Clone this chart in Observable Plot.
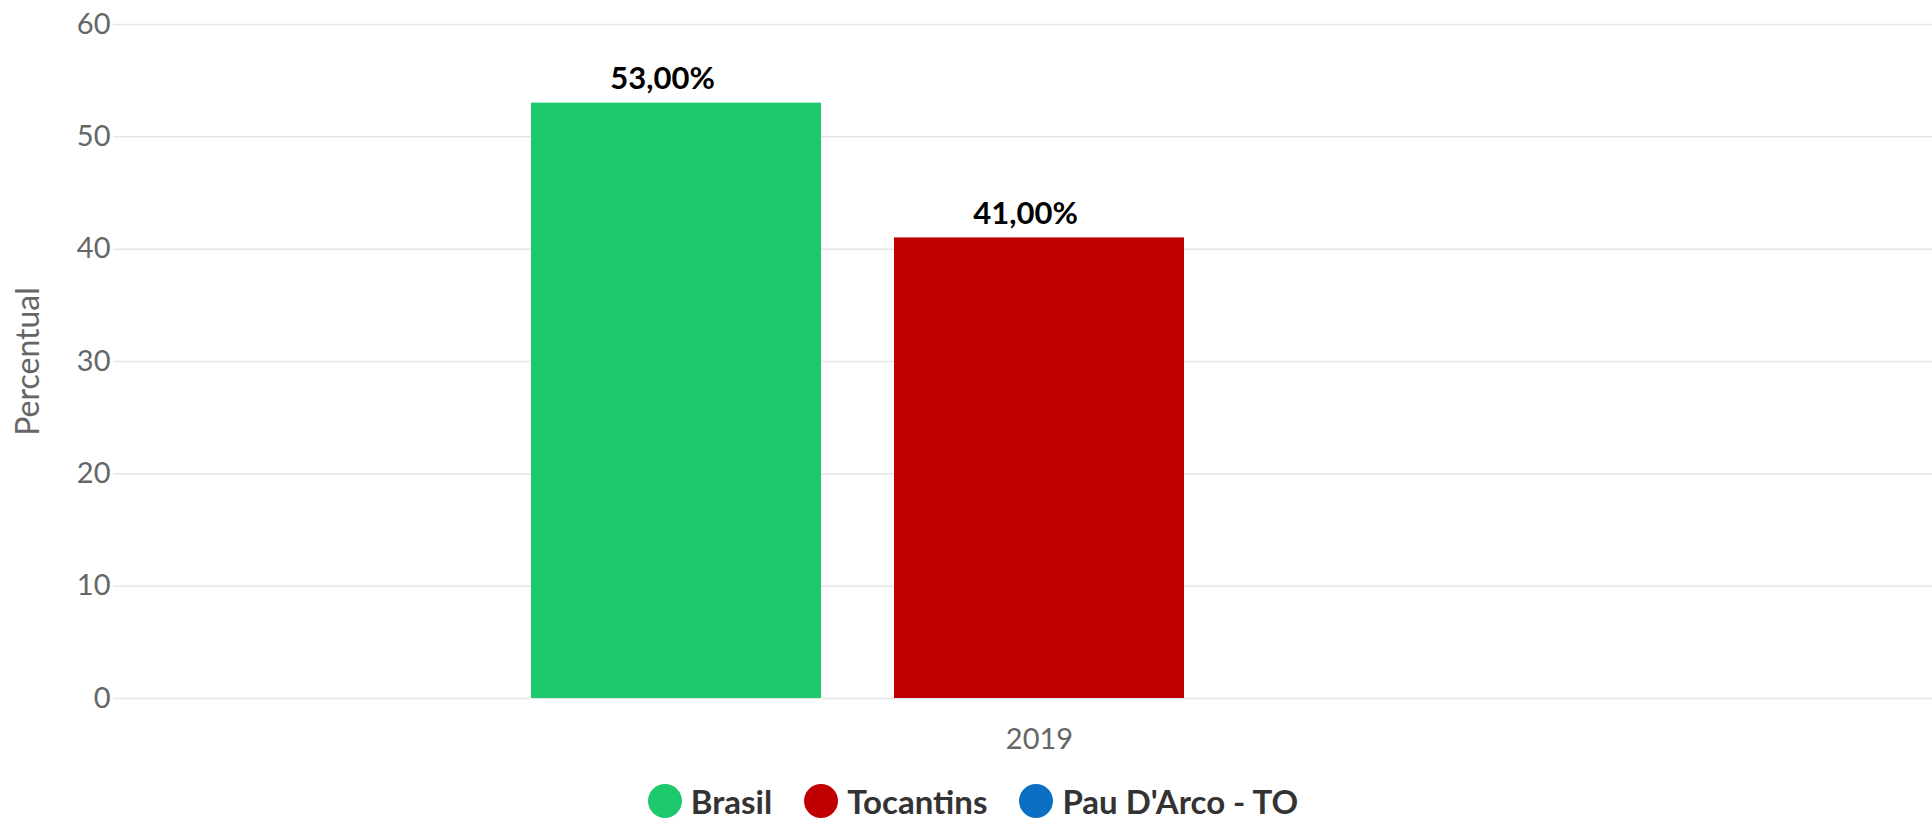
<!DOCTYPE html>
<html>
<head>
<meta charset="utf-8">
<script src="https://cdn.jsdelivr.net/npm/d3@7"></script>
<script src="https://cdn.jsdelivr.net/npm/@observablehq/plot@0.6"></script>
<style>
  html, body { margin: 0; padding: 0; background: #ffffff; overflow: hidden; }
  body { width: 1932px; height: 822px; font-family: Lato, "Open Sans", sans-serif; }
  #legend { display: flex; justify-content: center; align-items: center; gap: 32px; margin-top: 9px; padding-left: 14px; }
  .item { display: flex; align-items: center; gap: 9px; font-family: Lato, sans-serif; font-weight: 700; font-size: 33px; color: #333333; line-height: 34px; }
  .dot { width: 34px; height: 34px; border-radius: 50%; display: inline-block; }
</style>
</head>
<body>
<div id="chart"></div>
<div id="legend"></div>
<script>
const years = ["2019"];
const series = ["Brasil", "Tocantins", "Pau D'Arco - TO"];
const values2019 = [53, 41, null];
const colors = ["#1ec86c", "#c00000", "#0a6fc2"];
const yTicks = [0, 10, 20, 30, 40, 50, 60];

const data = series.map((s, i) => ({year: years[0], series: s, value: values2019[i]}));
const shown = data.filter(d => d.value != null);
const br = d3.formatLocale({decimal: ",", thousands: ".", grouping: [3], currency: ["R$", ""]});
const fmt = v => br.format(".2f")(v) + "%";

const chart = Plot.plot({
  width: 1932,
  height: 775,
  marginTop: 24,
  marginBottom: 77,
  marginLeft: 130,
  marginRight: 0,
  style: {fontFamily: "Lato, sans-serif", fontSize: "29px", color: "#666666", background: "transparent"},
  fx: {domain: years, range: [130, 1948], padding: 0, label: null},
  x: {domain: series, paddingInner: 0.2, paddingOuter: 1.1, axis: null},
  y: {domain: [0, 60]},
  color: {domain: series, range: colors},
  marks: [
    Plot.gridY(yTicks, {stroke: "#e6e6e6", strokeOpacity: 1, strokeWidth: 1.5, insetLeft: -17}),
    Plot.axisY(yTicks, {anchor: "left", tickSize: 0, tickPadding: 20, fill: "#666666", fontSize: 29,
      label: "Percentual", labelAnchor: "center", labelArrow: "none", labelOffset: 114}),
    Plot.axisFx({anchor: "bottom", tickSize: 0, tickPadding: 30, fill: "#666666", fontSize: 29, label: null}),
    Plot.barY(shown, {fx: "year", x: "series", y: "value", fill: "series"}),
    Plot.text(shown, {fx: "year", x: "series", y: "value", text: d => fmt(d.value),
      lineAnchor: "bottom", dy: -14, dx: -14, fill: "#000000", fontWeight: "bold", fontSize: 31})
  ]
});
document.getElementById("chart").appendChild(chart);
chart.querySelectorAll("[aria-label='y-axis label'] text, [aria-label='y-axis label']").forEach(el => {
  el.setAttribute("font-size", "32");
});

const legend = document.getElementById("legend");
series.forEach((s, i) => {
  const item = document.createElement("div");
  item.className = "item";
  const dot = document.createElement("span");
  dot.className = "dot";
  dot.style.background = colors[i];
  const label = document.createElement("span");
  label.textContent = s;
  item.appendChild(dot);
  item.appendChild(label);
  legend.appendChild(item);
});
</script>
</body>
</html>
